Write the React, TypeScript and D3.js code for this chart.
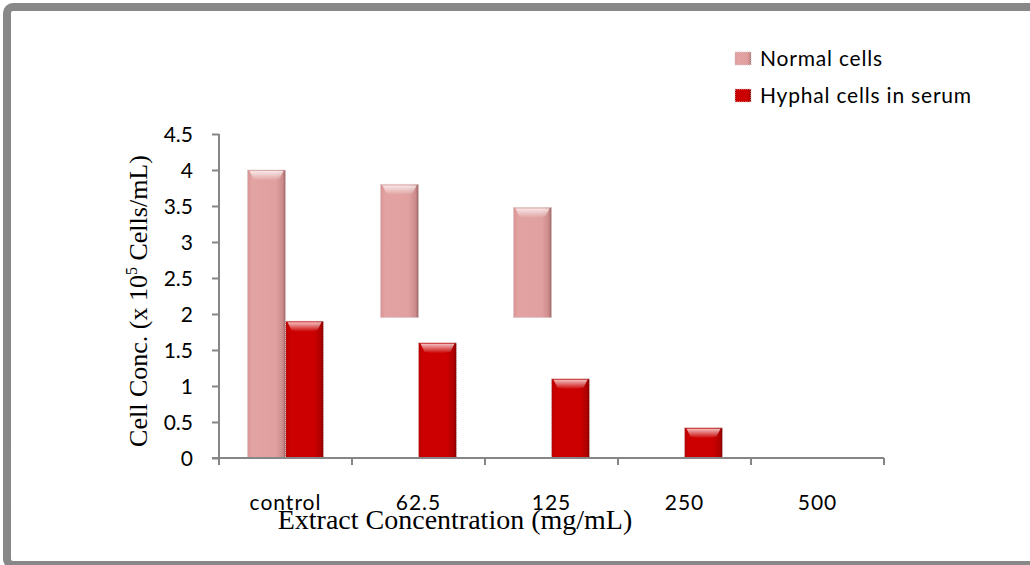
import { useEffect, useRef } from 'react';
import * as d3 from 'd3';

// values
const categories = ['control', '62.5', '125', '250', '500'];
const seriesNames = ['Normal cells', 'Hyphal cells in serum'];
const normalCells: (number | null)[] = [4.0, 3.8, 3.48, null, null];
const normalBase: number[] = [0, 1.95, 1.95, 0, 0];
const hyphalCells: (number | null)[] = [1.9, 1.6, 1.1, 0.42, null];
const yTicks = [0, 0.5, 1, 1.5, 2, 2.5, 3, 3.5, 4, 4.5];

const W = 1030;
const H = 565;

export default function App() {
  const svgRef = useRef<SVGSVGElement>(null);

  useEffect(() => {
    if (!svgRef.current) return;
    const svg = d3.select(svgRef.current);
    svg.selectAll('*').remove();

    const plot = { left: 219, right: 884, top: 134, bottom: 458 };
    const tickFont = 'Lato, Calibri, sans-serif';
    const titleFont = '"Liberation Serif", "Times New Roman", serif';
    const axisColor = '#868686';

    const x = d3.scaleBand<string>().domain(categories).range([plot.left, plot.right]);
    const xInner = d3
      .scaleBand<string>()
      .domain(seriesNames)
      .range([0, x.bandwidth()])
      .paddingInner(0)
      .paddingOuter(0.75);
    const y = d3.scaleLinear().domain([0, 4.5]).range([plot.bottom, plot.top]);

    // gradients for the bevelled bars
    const defs = svg.append('defs');
    const makeGrad = (id: string, stops: [string, string][]) => {
      const g = defs.append('linearGradient').attr('id', id).attr('x1', '0%').attr('x2', '100%');
      stops.forEach(([o, c]) => g.append('stop').attr('offset', o).attr('stop-color', c));
    };
    makeGrad('pinkGrad', [
      ['0%', '#d99494'],
      ['12%', '#e3a3a3'],
      ['75%', '#e0a0a0'],
      ['92%', '#cd8c8c'],
      ['100%', '#9c6464'],
    ]);
    makeGrad('redGrad', [
      ['0%', '#b80000'],
      ['12%', '#cc0000'],
      ['75%', '#cc0000'],
      ['92%', '#b00000'],
      ['100%', '#860000'],
    ]);
    const hl = defs.append('linearGradient').attr('id', 'hlGrad').attr('x1', '0%').attr('x2', '0%').attr('y1', '0%').attr('y2', '100%');
    hl.append('stop').attr('offset', '0%').attr('stop-color', '#fff').attr('stop-opacity', 0.75);
    hl.append('stop').attr('offset', '100%').attr('stop-color', '#fff').attr('stop-opacity', 0);

    // outer frame
    svg
      .append('rect')
      .attr('x', 7)
      .attr('y', 7)
      .attr('width', W + 20)
      .attr('height', 558)
      .attr('rx', 6)
      .attr('fill', 'white')
      .attr('stroke', '#888888')
      .attr('stroke-width', 8);

    // bars
    type Bar = { cat: string; series: string; v0: number; v1: number; grad: string };
    const bars: Bar[] = [];
    categories.forEach((c, i) => {
      const n = normalCells[i];
      if (n != null) bars.push({ cat: c, series: seriesNames[0], v0: normalBase[i], v1: n, grad: 'pinkGrad' });
      const h = hyphalCells[i];
      if (h != null) bars.push({ cat: c, series: seriesNames[1], v0: 0, v1: h, grad: 'redGrad' });
    });

    const barG = svg.append('g');
    const bw = xInner.bandwidth();
    bars.forEach(b => {
      const bx = (x(b.cat) ?? 0) + (xInner(b.series) ?? 0);
      const top = y(b.v1);
      const hgt = y(b.v0) - y(b.v1);
      barG
        .append('rect')
        .attr('x', bx)
        .attr('y', top)
        .attr('width', bw)
        .attr('height', hgt)
        .attr('fill', `url(#${b.grad})`)
        .attr('stroke', '#d8c8c8')
        .attr('stroke-width', 1)
        .attr('stroke-dasharray', '1,1');
      barG
        .append('path')
        .attr('d', `M${bx + 2},${top + 1} L${bx + bw - 2},${top + 1} L${bx + bw - 6},${top + 9} Q${bx + bw / 2},${top + 12} ${bx + 6},${top + 9} Z`)
        .attr('fill', 'url(#hlGrad)');
    });

    // y axis
    const yAxis = svg
      .append('g')
      .attr('transform', `translate(${plot.left},0)`)
      .call(d3.axisLeft(y).tickValues(yTicks).tickSize(7).tickPadding(19).tickFormat(d => String(d)));
    yAxis.select('.domain').attr('stroke', axisColor).attr('stroke-width', 2).attr('d', `M0,${plot.top}V${plot.bottom}`);
    yAxis.selectAll('.tick line').attr('stroke', axisColor).attr('stroke-width', 2);
    yAxis
      .selectAll('.tick text')
      .attr('fill', '#000')
      .style('font-family', tickFont)
      .style('font-size', '21px')
      .attr('dy', '0.36em');

    // x axis
    const xAxis = svg
      .append('g')
      .attr('transform', `translate(0,${plot.bottom})`)
      .call(d3.axisBottom(x).tickSize(0).tickPadding(37));
    xAxis.select('.domain').attr('stroke', axisColor).attr('stroke-width', 2).attr('d', `M${plot.left - 7},0H${plot.right}`);
    xAxis
      .selectAll('.tick text')
      .attr('fill', '#000')
      .style('font-family', tickFont)
      .style('font-size', '21px')
      .style('letter-spacing', '1px');
    const boundaries = [plot.left, ...categories.map(c => (x(c) ?? 0) + x.bandwidth())];
    xAxis
      .selectAll('.bound')
      .data(boundaries)
      .enter()
      .append('line')
      .attr('x1', d => d)
      .attr('x2', d => d)
      .attr('y1', 0)
      .attr('y2', 7)
      .attr('stroke', axisColor)
      .attr('stroke-width', 2);

    // axis titles
    svg
      .append('text')
      .attr('x', 455)
      .attr('y', 529)
      .attr('text-anchor', 'middle')
      .style('font-family', titleFont)
      .style('font-size', '28px')
      .text('Extract Concentration (mg/mL)');

    const yt = svg
      .append('text')
      .attr('transform', `translate(147,301) rotate(-90)`)
      .attr('text-anchor', 'middle')
      .style('font-family', titleFont)
      .style('font-size', '26px');
    yt.append('tspan').text('Cell Conc. (x 10');
    yt.append('tspan').attr('dy', -10).style('font-size', '16px').text('5');
    yt.append('tspan').attr('dy', 10).text(' Cells/mL)');

    // legend
    const legend = svg.append('g').attr('transform', 'translate(735,52)');
    seriesNames.forEach((s, i) => {
      const g = legend.append('g').attr('transform', `translate(0,${i * 37})`);
      g.append('rect')
        .attr('width', 16)
        .attr('height', 13)
        .attr('fill', i === 0 ? 'url(#pinkGrad)' : 'url(#redGrad)')
        .attr('stroke', '#d8c8c8')
        .attr('stroke-dasharray', '1,1');
      g.append('text')
        .attr('x', 25)
        .attr('y', 14)
        .style('font-family', tickFont)
        .style('font-size', '21px')
        .style('letter-spacing', '0.8px')
        .text(s);
    });
  }, []);

  return (
    <svg
      ref={svgRef}
      width={W}
      height={H}
      style={{ position: 'absolute', left: 0, top: 0, background: 'white' }}
    />
  );
}
